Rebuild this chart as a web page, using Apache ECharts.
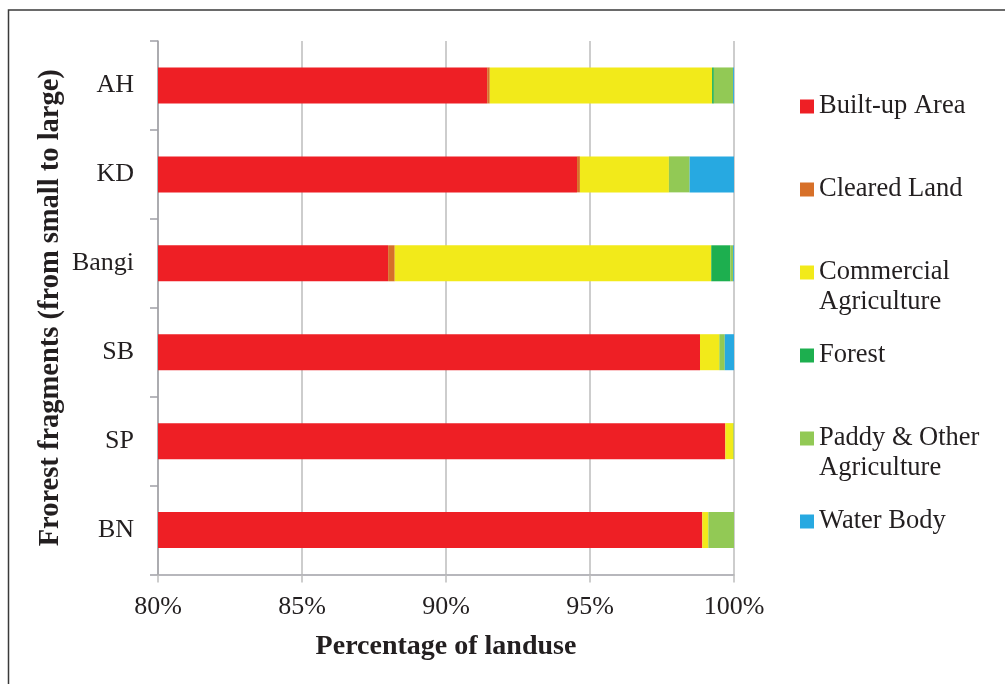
<!DOCTYPE html>
<html>
<head>
<meta charset="utf-8">
<script src="https://cdn.jsdelivr.net/npm/echarts@6/dist/echarts.min.js"></script>
<style>html,body{margin:0;padding:0;background:#fff;}#c{width:1005px;height:684px;}</style>
</head>
<body>
<div id="c"></div>
<script>
const categories = ['AH', 'KD', 'Bangi', 'SB', 'SP', 'BN'];
const seriesNames = ['Built-up Area', 'Cleared Land', 'Commercial Agriculture', 'Forest', 'Paddy & Other Agriculture', 'Water Body'];
const builtUp = [91.43, 94.55, 87.99, 98.82, 99.70, 98.90];
const clearedLand = [0.09, 0.10, 0.23, 0.00, 0.00, 0.00];
const commercialAgri = [7.72, 3.09, 10.99, 0.68, 0.28, 0.21];
const forest = [0.06, 0.00, 0.66, 0.01, 0.00, 0.00];
const paddyOther = [0.67, 0.72, 0.10, 0.17, 0.02, 0.89];
const waterBody = [0.03, 1.54, 0.03, 0.32, 0.00, 0.00];
const xTicks = [80, 85, 90, 95, 100];

const colors = ['#EE1F25', '#D77029', '#F2EA1A', '#1DAF4F', '#92C955', '#27A9E1'];
const seriesData = [builtUp, clearedLand, commercialAgri, forest, paddyOther, waterBody];
const FONT = '"Liberation Serif", "Times New Roman", serif';

const legendTops = [91.5, 174.5, 227.5, 340.5, 393.5, 506.5];
const legendLabels = {
  'Commercial Agriculture': ' \nCommercial\nAgriculture',
  'Paddy & Other Agriculture': ' \nPaddy & Other\nAgriculture'
};
const legends = seriesNames.map((n, i) => ({
  data: [n],
  left: 800,
  top: legendTops[i],
  orient: 'vertical',
  padding: 0,
  itemWidth: 14,
  itemHeight: 14,
  icon: 'rect',
  selectedMode: false,
  formatter: (name) => legendLabels[name] || name,
  textStyle: {
    fontFamily: FONT,
    fontSize: 26.5,
    color: '#231F20',
    lineHeight: 30
  }
}));

const chart = echarts.init(document.getElementById('c'));
chart.setOption({
  animation: false,
  backgroundColor: '#ffffff',
  legend: legends,
  grid: { left: 158, top: 41, width: 576, height: 533.5, containLabel: false },
  xAxis: {
    type: 'value',
    min: xTicks[0],
    max: xTicks[xTicks.length - 1],
    interval: 5,
    name: 'Percentage of landuse',
    nameLocation: 'middle',
    nameGap: 58,
    nameMoveOverlap: false,
    nameTextStyle: { fontFamily: FONT, fontSize: 28, fontWeight: 'bold', color: '#231F20' },
    axisLine: { show: true, lineStyle: { color: '#A0A0A6', width: 1.5 } },
    axisTick: { show: true, length: 8, lineStyle: { color: '#BDBDBD', width: 1.5 } },
    splitLine: { show: true, lineStyle: { color: '#BDBDBD', width: 1.5 } },
    axisLabel: { formatter: '{value}%', fontFamily: FONT, fontSize: 26, color: '#231F20', margin: 20 }
  },
  yAxis: {
    type: 'category',
    data: categories,
    inverse: true,
    name: 'Frorest fragments (from small to large)',
    nameLocation: 'middle',
    nameGap: 93,
    nameMoveOverlap: false,
    nameRotate: 90,
    nameTextStyle: { fontFamily: FONT, fontSize: 28.5, fontWeight: 'bold', color: '#231F20' },
    axisLine: { show: true, lineStyle: { color: '#A0A0A6', width: 1.5 } },
    axisTick: { show: true, length: 8, lineStyle: { color: '#A0A0A6', width: 1.5 } },
    axisLabel: { fontFamily: FONT, fontSize: 26, color: '#231F20', margin: 24 }
  },
  graphic: [{
    type: 'rect',
    shape: { x: 8.5, y: 10, width: 1200, height: 900 },
    style: { fill: 'none', stroke: '#3a3a3a', lineWidth: 1.5 },
    silent: true,
    z: 100
  }],
  series: seriesNames.map((n, i) => ({
    name: n,
    type: 'bar',
    stack: 'total',
    barWidth: 36,
    data: seriesData[i],
    itemStyle: { color: colors[i] },
    emphasis: { disabled: true }
  }))
});
</script>
</body>
</html>
